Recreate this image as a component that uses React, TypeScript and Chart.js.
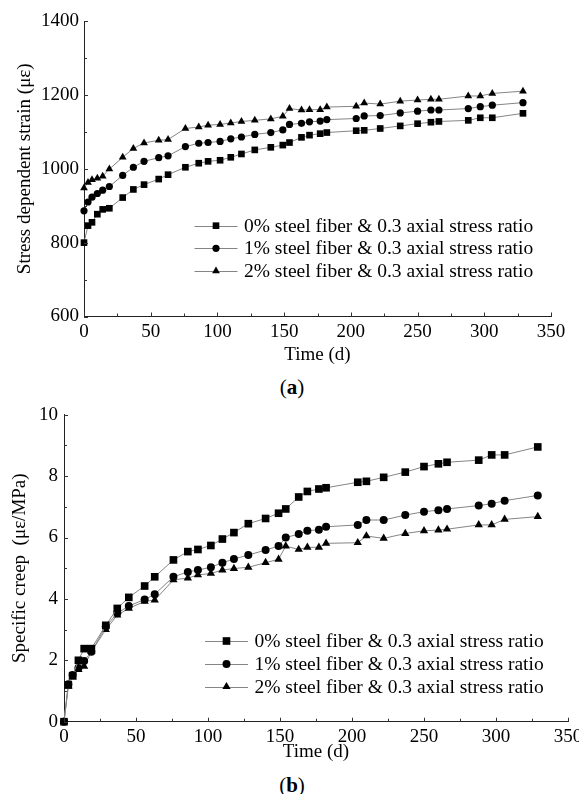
import React, { useEffect, useRef } from "react";
import { Chart, registerables } from "chart.js";

Chart.register(...registerables);

// ---------------- data ----------------
const days = [0, 3, 6, 10, 14, 19, 29, 37, 45, 56, 63, 76, 86, 93, 102, 110, 118, 128, 140, 149, 154, 163, 169, 177, 182, 204, 210, 222, 237, 250, 260, 266, 288, 297, 306, 329];

const seriesLabels = [
  "0% steel fiber & 0.3 axial stress ratio",
  "1% steel fiber & 0.3 axial stress ratio",
  "2% steel fiber & 0.3 axial stress ratio",
];

// (a) stress dependent strain (με)
const strain0 = [800, 846, 855, 877, 890, 893, 922, 944, 957, 972, 984, 1004, 1015, 1020, 1023, 1031, 1040, 1051, 1058, 1064, 1071, 1085, 1091, 1095, 1098, 1103, 1104, 1109, 1116, 1122, 1126, 1128, 1131, 1138, 1138, 1150];
const strain1 = [886, 910, 923, 933, 942, 952, 982, 1004, 1020, 1030, 1035, 1060, 1069, 1071, 1074, 1081, 1086, 1093, 1098, 1105, 1120, 1123, 1127, 1129, 1133, 1136, 1143, 1144, 1151, 1156, 1159, 1159, 1163, 1168, 1172, 1179];
const strain2 = [948, 963, 970, 974, 980, 999, 1031, 1055, 1070, 1077, 1079, 1109, 1113, 1118, 1120, 1124, 1128, 1131, 1135, 1142, 1163, 1159, 1160, 1160, 1167, 1169, 1178, 1175, 1183, 1186, 1188, 1188, 1197, 1197, 1204, 1210];

// (b) specific creep (με/MPa)
const creep0 = [0, 1.2, 1.5, 2.0, 2.38, 2.38, 3.14, 3.69, 4.05, 4.42, 4.72, 5.27, 5.54, 5.61, 5.74, 5.95, 6.16, 6.45, 6.62, 6.79, 6.93, 7.32, 7.5, 7.58, 7.62, 7.8, 7.83, 7.96, 8.13, 8.31, 8.4, 8.45, 8.52, 8.69, 8.69, 8.95];
const creep1 = [0, 1.22, 1.52, 1.75, 1.98, 2.28, 3.1, 3.53, 3.77, 3.98, 4.15, 4.72, 4.88, 4.94, 5.03, 5.18, 5.3, 5.43, 5.59, 5.72, 6.0, 6.11, 6.22, 6.25, 6.35, 6.41, 6.57, 6.57, 6.73, 6.84, 6.89, 6.93, 7.04, 7.1, 7.2, 7.37];
const creep2 = [0, 1.15, 1.45, 1.7, 1.8, 2.28, 3.0, 3.47, 3.69, 3.92, 3.96, 4.62, 4.68, 4.78, 4.83, 4.94, 4.99, 5.03, 5.18, 5.29, 5.72, 5.61, 5.68, 5.68, 5.81, 5.83, 6.05, 5.97, 6.13, 6.22, 6.24, 6.27, 6.41, 6.41, 6.59, 6.68];

const xTickValues = [0, 50, 100, 150, 200, 250, 300, 350];
const strainTickValues = [600, 800, 1000, 1200, 1400];
const creepTickValues = [0, 2, 4, 6, 8, 10];

const xAxisTitle = "Time (d)";
const strainAxisTitle = "Stress dependent strain (με)";
const creepAxisTitle = "Specific creep  (με/MPa)";

const pointStyles = ["rect", "circle", "triangle"];

// ---------------- styling / layout ----------------
const FONT = "'Liberation Serif', 'Times New Roman', serif";
const FS = 19;
const LH = FS * 1.2;
const LINE_COLOR = "#858585";

type Panel = {
  top: number;
  height: number;
  plotLeft: number;
  plotRight: number;
  plotTop: number;
  plotBottom: number;
  xTitleCenter: number;
  yTitleCenterX: number;
  series: number[][];
  yTicks: number[];
  yTitle: string;
  radii: number[];
  legendX: number;
  legendYs: number[];
  yLabelPad: number;
};

const W = 579;

const panelA: Panel = {
  top: 0,
  height: 370,
  plotLeft: 84,
  plotRight: 551,
  plotTop: 21,
  plotBottom: 316.5,
  xTitleCenter: 355.5,
  yTitleCenterX: 25,
  series: [strain0, strain1, strain2],
  yTicks: strainTickValues,
  yTitle: strainAxisTitle,
  radii: [4.7, 3.6, 4.5],
  legendX: 194.5,
  legendYs: [225.7, 248.3, 270.9],
  yLabelPad: 5,
};

const panelB: Panel = {
  top: 385,
  height: 380,
  plotLeft: 64,
  plotRight: 568,
  plotTop: 29.7,
  plotBottom: 336.7,
  xTitleCenter: 366.7,
  yTitleCenterX: 20,
  series: [creep0, creep1, creep2],
  yTicks: creepTickValues,
  yTitle: creepAxisTitle,
  radii: [5.4, 4.0, 4.8],
  legendX: 205,
  legendYs: [256, 279, 301.7],
  yLabelPad: 6,
};

function drawMarker(ctx: CanvasRenderingContext2D, style: string, x: number, y: number, r: number) {
  ctx.beginPath();
  if (style === "rect") {
    const s = Math.SQRT1_2 * r;
    ctx.rect(x - s, y - s, 2 * s, 2 * s);
  } else if (style === "circle") {
    ctx.arc(x, y, r, 0, Math.PI * 2);
  } else {
    ctx.moveTo(x, y - r);
    ctx.lineTo(x + Math.sin((2 * Math.PI) / 3) * r, y + 0.5 * r);
    ctx.lineTo(x - Math.sin((2 * Math.PI) / 3) * r, y + 0.5 * r);
    ctx.closePath();
  }
  ctx.fill();
}

const inwardTicks = {
  id: "inwardTicks",
  afterDraw(chart: any, _args: any, opts: any) {
    const { ctx, chartArea, scales } = chart;
    const xs = scales.x;
    const ys = scales.y;
    ctx.save();
    ctx.strokeStyle = "#333";
    ctx.lineWidth = 1;
    ctx.beginPath();
    const xt: number[] = opts.xTicks;
    const yt: number[] = opts.yTicks;
    const xAll: [number, number][] = [];
    xt.forEach((v, i) => {
      xAll.push([v, 4]);
      if (i < xt.length - 1) xAll.push([(v + xt[i + 1]) / 2, 3]);
    });
    const yAll: [number, number][] = [];
    yt.forEach((v, i) => {
      yAll.push([v, 4]);
      if (i < yt.length - 1) yAll.push([(v + yt[i + 1]) / 2, 3]);
    });
    for (const [v, len] of xAll) {
      const px = Math.round(xs.getPixelForValue(v)) + 0.5;
      ctx.moveTo(px, chartArea.bottom);
      ctx.lineTo(px, chartArea.bottom - len);
    }
    for (const [v, len] of yAll) {
      const py = Math.round(ys.getPixelForValue(v)) + 0.5;
      ctx.moveTo(chartArea.left, py);
      ctx.lineTo(chartArea.left + len, py);
    }
    ctx.stroke();
    ctx.restore();
  },
};

const lineLegend = {
  id: "lineLegend",
  afterDraw(chart: any, _args: any, opts: any) {
    const { ctx } = chart;
    ctx.save();
    const x0: number = opts.x;
    opts.ys.forEach((y: number, i: number) => {
      ctx.strokeStyle = LINE_COLOR;
      ctx.lineWidth = 1;
      ctx.beginPath();
      ctx.moveTo(x0, Math.round(y) + 0.5);
      ctx.lineTo(x0 + 43, Math.round(y) + 0.5);
      ctx.stroke();
      ctx.fillStyle = "#000";
      drawMarker(ctx, pointStyles[i], x0 + 21.5, y, opts.radii[i]);
      ctx.font = `${opts.fontSize}px ${FONT}`;
      ctx.textBaseline = "middle";
      ctx.textAlign = "left";
      ctx.fillText(seriesLabels[i], x0 + 49.5, y + 1);
    });
    ctx.restore();
  },
};

function makeConfig(p: Panel): any {
  const datasets = p.series.map((vals, i) => ({
    label: seriesLabels[i],
    data: days.map((d, k) => ({ x: d, y: vals[k] })),
    borderColor: LINE_COLOR,
    borderWidth: 1,
    pointStyle: pointStyles[i],
    pointRadius: p.radii[i],
    pointHoverRadius: p.radii[i],
    pointBackgroundColor: "#000",
    pointBorderColor: "#000",
    pointBorderWidth: 0,
    tension: 0,
    fill: false,
    clip: false,
  }));
  const xAxisHeight = p.xTitleCenter + LH / 2 - p.plotBottom;
  const padBottom = p.height - p.plotBottom - xAxisHeight;
  return {
    type: "line",
    data: { datasets },
    options: {
      responsive: false,
      animation: false,
      events: [],
      layout: {
        padding: { left: 0, right: W - p.plotRight, top: p.plotTop, bottom: padBottom },
      },
      plugins: {
        legend: { display: false },
        tooltip: { enabled: false },
        inwardTicks: { xTicks: xTickValues, yTicks: p.yTicks },
        lineLegend: { x: p.legendX, ys: p.legendYs, radii: p.radii, fontSize: 19.5 },
      },
      scales: {
        x: {
          type: "linear",
          min: xTickValues[0],
          max: xTickValues[xTickValues.length - 1],
          grid: { display: false, drawTicks: false },
          border: { display: true, color: "#222", width: 1 },
          ticks: {
            color: "#000",
            font: { family: FONT, size: FS },
            padding: 4,
            autoSkip: false,
            maxRotation: 0,
            minRotation: 0,
            callback: (v: any) => String(v),
          },
          afterBuildTicks: (s: any) => {
            s.ticks = xTickValues.map((v) => ({ value: v }));
          },
          afterFit: (s: any) => {
            s.height = xAxisHeight;
            s.paddingLeft = 0;
            s.paddingRight = 0;
          },
          title: {
            display: true,
            text: xAxisTitle,
            color: "#000",
            font: { family: FONT, size: FS },
            padding: { top: 0, bottom: 0 },
          },
        },
        y: {
          type: "linear",
          min: p.yTicks[0],
          max: p.yTicks[p.yTicks.length - 1],
          grid: { display: false, drawTicks: false },
          border: { display: true, color: "#222", width: 1 },
          ticks: {
            color: "#000",
            font: { family: FONT, size: FS },
            padding: p.yLabelPad,
            autoSkip: false,
            callback: (v: any) => String(v),
          },
          afterBuildTicks: (s: any) => {
            s.ticks = p.yTicks.map((v) => ({ value: v }));
          },
          afterFit: (s: any) => {
            s.width = p.plotLeft;
            s.paddingTop = 0;
            s.paddingBottom = 0;
          },
          title: {
            display: true,
            text: p.yTitle,
            color: "#000",
            font: { family: FONT, size: FS },
            padding: { top: p.yTitleCenterX - LH / 2, bottom: 0 },
          },
        },
      },
    },
    plugins: [inwardTicks, lineLegend],
  };
}

function ChartPanel({ panel }: { panel: Panel }) {
  const ref = useRef<HTMLCanvasElement | null>(null);
  useEffect(() => {
    if (!ref.current) return;
    const chart = new Chart(ref.current, makeConfig(panel));
    return () => chart.destroy();
  }, [panel]);
  return (
    <canvas
      ref={ref}
      width={W}
      height={panel.height}
      style={{ position: "absolute", left: 0, top: panel.top, width: W, height: panel.height }}
    />
  );
}

function Caption({ letter, centerY }: { letter: string; centerY: number }) {
  return (
    <div
      style={{
        position: "absolute",
        left: 0,
        width: 584,
        top: centerY - 13,
        height: 26,
        lineHeight: "26px",
        textAlign: "center",
        fontFamily: FONT,
        fontSize: 21,
        color: "#000",
      }}
    >
      (<b>{letter}</b>)
    </div>
  );
}

export default function App() {
  return (
    <div
      style={{
        position: "absolute",
        left: 0,
        top: 0,
        width: W,
        height: 794,
        background: "#fff",
        overflow: "hidden",
      }}
    >
      <ChartPanel panel={panelA} />
      <Caption letter="a" centerY={386.5} />
      <ChartPanel panel={panelB} />
      <Caption letter="b" centerY={785} />
    </div>
  );
}
